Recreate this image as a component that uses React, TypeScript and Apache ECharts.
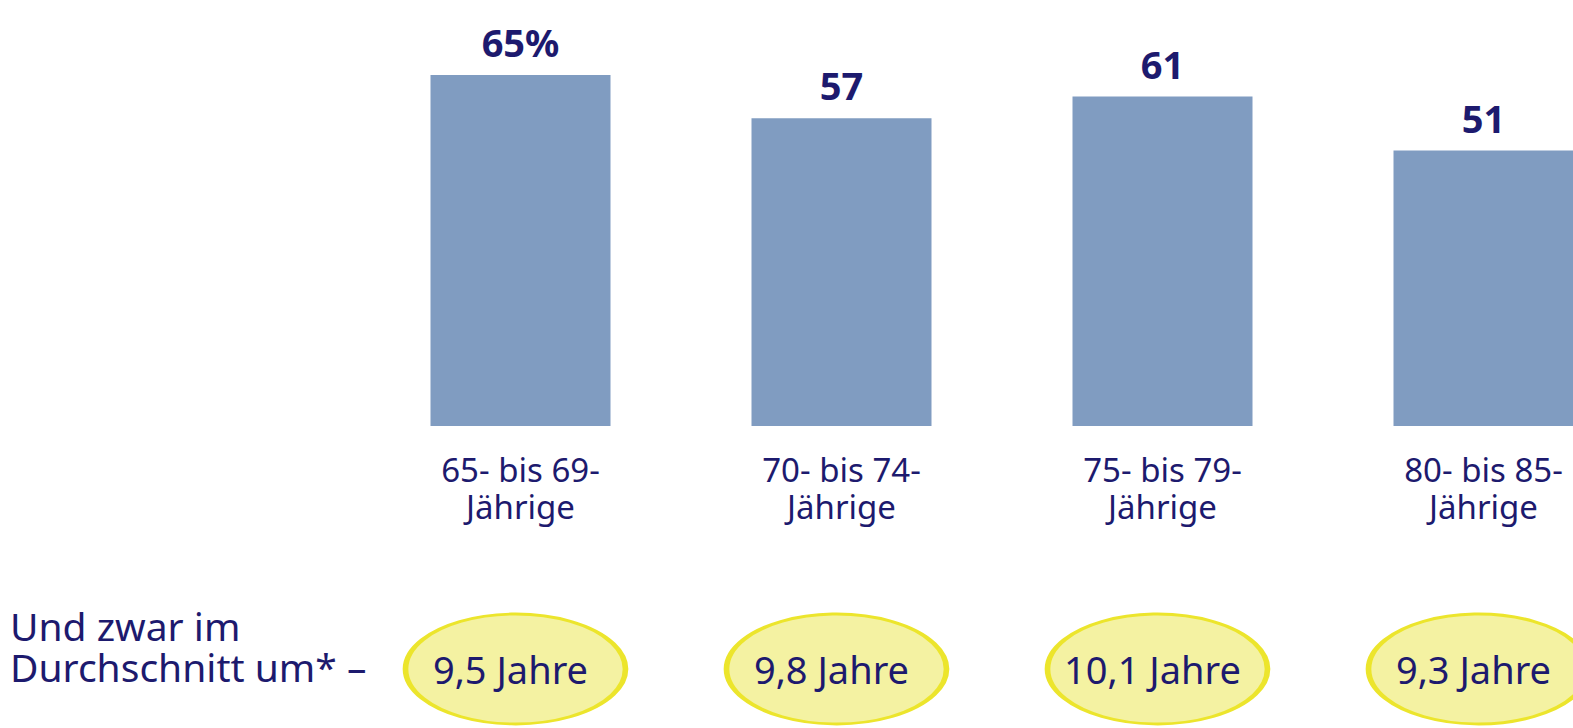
import React, { useEffect, useRef } from "react";
import * as echarts from "echarts";

const categories = ["65- bis 69-\nJährige", "70- bis 74-\nJährige", "75- bis 79-\nJährige", "80- bis 85-\nJährige"];
const shares = [65, 57, 61, 51];
const years = [9.5, 9.8, 10.1, 9.3];
const sideNote = "Und zwar im\nDurchschnitt um* –";

const NAVY = "#1d1a6e";
const FONT = "'Noto Sans', 'DejaVu Sans', sans-serif";

export default function App() {
  const ref = useRef<HTMLDivElement>(null);
  useEffect(() => {
    document.body.style.margin = "0";
    const chart = echarts.init(ref.current!, undefined, { renderer: "svg" });
    chart.setOption({
      animation: false,
      backgroundColor: "#ffffff",
      grid: [
        { left: 360, width: 1284, top: 48, height: 378, outerBoundsMode: "none", containLabel: false },
        { left: 360, width: 1284, top: 612, height: 114, outerBoundsMode: "none", containLabel: false },
      ],
      xAxis: [
        {
          type: "category",
          gridIndex: 0,
          data: categories,
          axisLine: { show: false },
          axisTick: { show: false },
          axisLabel: {
            margin: 25,
            fontSize: 33,
            lineHeight: 37,
            color: NAVY,
            fontFamily: FONT,
            interval: 0,
          },
        },
        {
          type: "category",
          gridIndex: 1,
          data: categories,
          show: false,
        },
      ],
      yAxis: [
        { type: "value", gridIndex: 0, min: 0, max: 70, show: false, splitLine: { show: false } },
        { type: "value", gridIndex: 1, min: 0, max: 1, show: false, splitLine: { show: false } },
      ],
      series: [
        {
          type: "bar",
          xAxisIndex: 0,
          yAxisIndex: 0,
          data: shares,
          barWidth: 180,
          itemStyle: { color: "#809cc1" },
          label: {
            show: true,
            position: "top",
            distance: 14,
            fontSize: 38,
            fontWeight: "bold",
            color: NAVY,
            fontFamily: FONT,
            formatter: (p: any) => (p.dataIndex === 0 ? `${p.value}%` : `${p.value}`),
          },
        },
        {
          type: "scatter",
          xAxisIndex: 1,
          yAxisIndex: 1,
          data: years.map((y, i) => [i, 0.5]),
          symbol: "circle",
          symbolSize: [220, 110],
          symbolOffset: [-5, 0],
          itemStyle: { color: "#f4f2a2", borderColor: "#ece52c", borderWidth: 4, opacity: 1 },
          label: {
            show: true,
            position: "inside",
            offset: [-5, 0],
            fontSize: 38,
            color: NAVY,
            fontFamily: FONT,
            formatter: (p: any) => `${years[p.dataIndex].toFixed(1).replace(".", ",")} Jahre`,
          },
        },
      ],
      graphic: [
        {
          type: "text",
          left: 10,
          top: 605,
          style: {
            text: sideNote,
            fontSize: 39,
            lineHeight: 41,
            fill: NAVY,
            fontFamily: FONT,
          },
        },
      ],
    });
    return () => chart.dispose();
  }, []);
  return <div ref={ref} style={{ width: 1573, height: 728 }} />;
}
